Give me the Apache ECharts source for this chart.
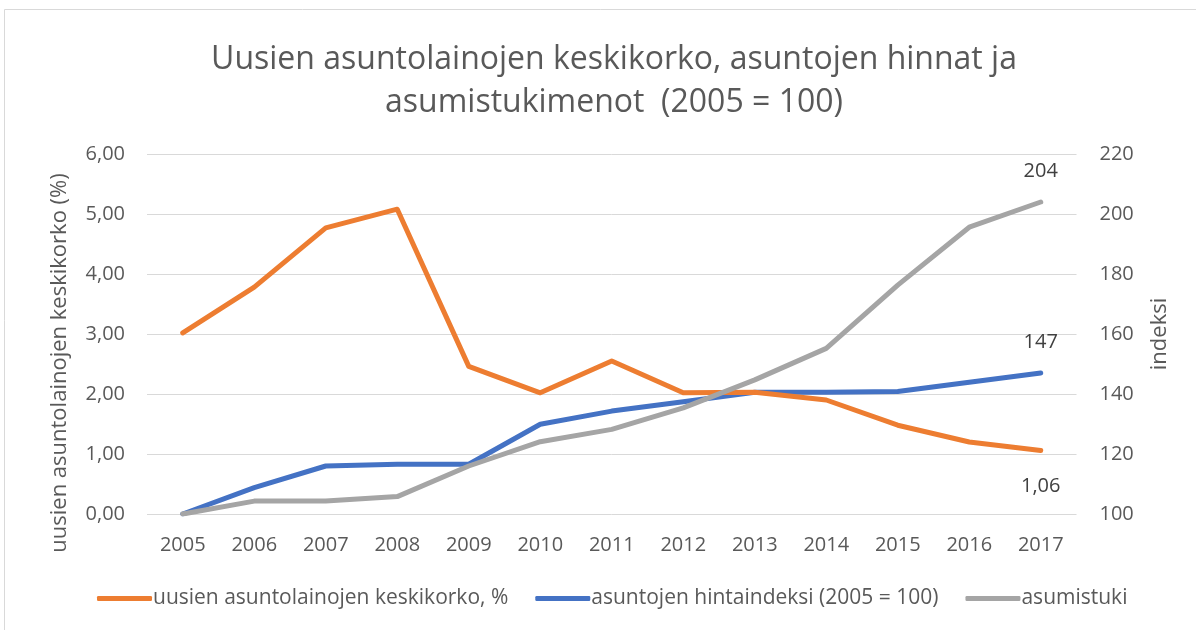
<!DOCTYPE html>
<html>
<head>
<meta charset="utf-8">
<script src="https://cdn.jsdelivr.net/npm/echarts@6/dist/echarts.min.js"></script>
<style>html,body{margin:0;padding:0;background:#fff}#c{width:1196px;height:630px}</style>
</head>
<body>
<div id="c"></div>
<script>
const years = ['2005','2006','2007','2008','2009','2010','2011','2012','2013','2014','2015','2016','2017'];
const korko = [3.02, 3.78, 4.77, 5.08, 2.46, 2.02, 2.55, 2.02, 2.03, 1.90, 1.48, 1.20, 1.06];
const hintaindeksi = [100, 108.8, 116.0, 116.6, 116.6, 129.9, 134.3, 137.4, 140.6, 140.6, 140.8, 143.9, 147];
const asumistuki = [100, 104.3, 104.3, 105.8, 116.0, 124.1, 128.2, 135.4, 144.7, 155.2, 176.3, 195.6, 204];
const leftTicks = [0, 1, 2, 3, 4, 5, 6];
const rightTicks = [100, 120, 140, 160, 180, 200, 220];
const names = ['uusien asuntolainojen keskikorko, %', 'asuntojen hintaindeksi (2005 = 100)', 'asumistuki'];

const FONT = 'Open Sans';
const TXT = '#595959';
const chart = echarts.init(document.getElementById('c'), null, {renderer: 'canvas'});
const lastOnly = (fmt) => (p) => p.dataIndex === years.length - 1 ? fmt(p.value) : '';
function lineSeries(name, axis, data, color, labelPos, dist, fmt, z) {
  return {
    name, type: 'line', yAxisIndex: axis, data,
    symbol: 'circle', symbolSize: 1, showSymbol: true,
    lineStyle: {width: 5, color, cap: 'round', join: 'round'}, itemStyle: {color},
    label: {show: true, position: labelPos, distance: dist, fontFamily: FONT, fontSize: 20, color: '#404040',
      formatter: lastOnly(fmt)},
    z
  };
}
chart.setOption({
  animation: false,
  textStyle: {fontFamily: FONT, color: TXT},
  graphic: [{
    type: 'rect', shape: {x: 4.5, y: 9.5, width: 1300, height: 800},
    style: {fill: 'none', stroke: '#d9d9d9', lineWidth: 1}, silent: true, z: -1
  }],
  title: {
    text: 'Uusien asuntolainojen keskikorko, asuntojen hinnat ja\nasumistukimenot  (2005 = 100)',
    left: 609, top: 33, textAlign: 'center',
    textStyle: {fontFamily: FONT, fontSize: 32, fontWeight: 'normal', color: TXT, lineHeight: 43}
  },
  legend: {
    bottom: 16, left: 92,
    itemWidth: 55, itemHeight: 5, itemGap: 27, icon: 'roundRect',
    textStyle: {fontFamily: FONT, fontSize: 21, color: TXT, padding: [0, 0, 0, -4]},
    data: names
  },
  grid: {left: 147, right: 119.5, top: 154, bottom: 116},
  xAxis: {
    type: 'category', data: years, boundaryGap: true,
    axisLine: {show: false}, axisTick: {show: false},
    axisLabel: {fontFamily: FONT, fontSize: 20, color: TXT, margin: 21}
  },
  yAxis: [{
    type: 'value', min: leftTicks[0], max: leftTicks[leftTicks.length - 1], interval: 1,
    name: 'uusien asuntolainojen keskikorko (%)', nameLocation: 'middle', nameGap: 76,
    nameTextStyle: {fontFamily: FONT, fontSize: 22, color: TXT, padding: [0, 58, 0, 0]},
    axisLine: {show: false}, axisTick: {show: false},
    axisLabel: {fontFamily: FONT, fontSize: 20, color: TXT, margin: 22, formatter: v => v.toFixed(2).replace('.', ',')},
    splitLine: {lineStyle: {color: '#d9d9d9', width: 1}}
  }, {
    type: 'value', min: rightTicks[0], max: rightTicks[rightTicks.length - 1], interval: 20,
    name: 'indeksi', nameLocation: 'middle', nameGap: 72, nameRotate: 90,
    nameTextStyle: {fontFamily: FONT, fontSize: 22, color: TXT},
    axisLine: {show: false}, axisTick: {show: false},
    axisLabel: {fontFamily: FONT, fontSize: 20, color: TXT, margin: 23},
    splitLine: {show: false}
  }],
  series: [
    lineSeries(names[0], 0, korko, '#ED7D31', 'bottom', 25, v => v.toFixed(2).replace('.', ','), 3),
    lineSeries(names[1], 1, hintaindeksi, '#4472C4', 'top', 20, v => String(Math.round(v)), 2),
    lineSeries(names[2], 1, asumistuki, '#A5A5A5', 'top', 20, v => String(Math.round(v)), 4)
  ]
});
</script>
</body>
</html>
